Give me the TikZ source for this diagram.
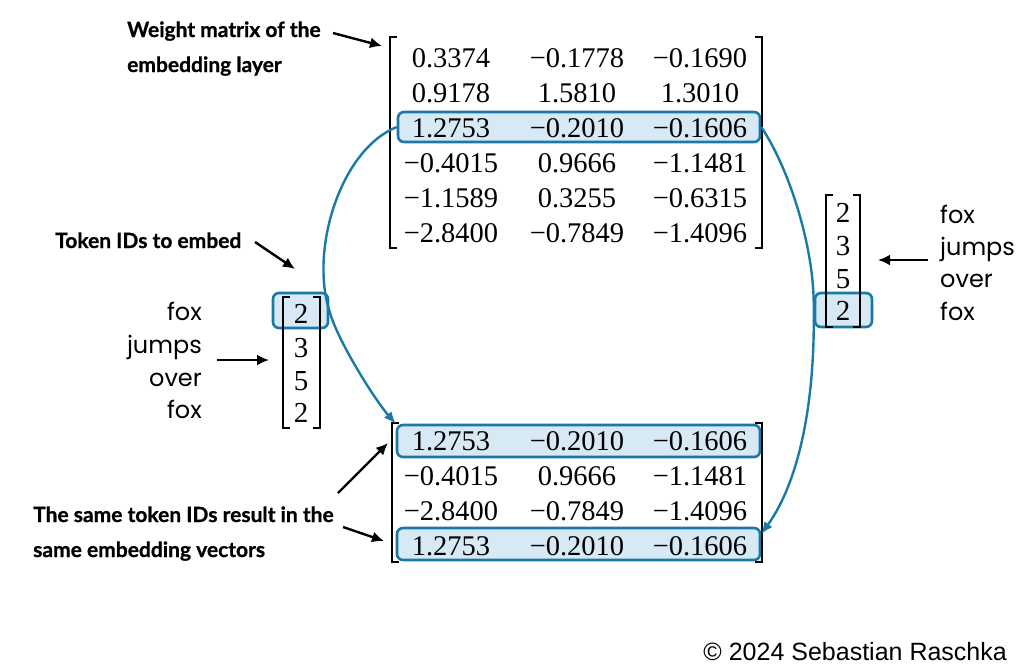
\documentclass[tikz,border=0pt]{standalone}
\usepackage{fontspec}
\setmainfont{Liberation Serif}
\newfontfamily\geofont{Poppins}
\newfontfamily\labfont{Lato}[BoldFeatures={FakeBold=0.8}]
\newfontfamily\copyfont{Liberation Sans}
\usetikzlibrary{arrows.meta}
\definecolor{hlblue}{HTML}{1B79A8}
\definecolor{hlfill}{HTML}{D6E9F5}
\tikzset{
  num/.style={inner sep=0pt, anchor=base, font=\fontsize{28.5}{28}\selectfont},
  vnum/.style={inner sep=0pt, anchor=base, font=\fontsize{29}{28}\selectfont},
  hlbox/.style={draw=hlblue, fill=hlfill, line width=2.6pt, rounded corners=6pt, inner sep=0pt},
  brk/.style={draw=black, line width=1.8pt},
  word/.style={inner sep=0pt, font=\geofont\fontsize{24}{24}\selectfont},
  lab/.style={inner sep=0pt, anchor=base west, font=\labfont\bfseries\fontsize{21}{21}\selectfont},
  blk/.style={draw=black, line width=2.4pt, -{Latex[length=12pt,width=11pt]}},
  blu/.style={draw=hlblue, line width=2.4pt, -{Latex[length=12pt,width=10pt]}},
}
\begin{document}
\begin{tikzpicture}[x=1pt,y=-1pt]
\useasboundingbox (0,0) rectangle (1019,667);
% highlight boxes
\node[hlbox, minimum width=362pt, minimum height=30pt] (h3) at (579,127) {};
\node[hlbox, minimum width=363pt, minimum height=32pt] (b1) at (578.5,441) {};
\node[hlbox, minimum width=363pt, minimum height=32pt] (b4) at (578.5,544) {};
\node[hlbox, minimum width=55pt, minimum height=35pt] (lbox) at (300.5,310.5) {};
\node[hlbox, minimum width=57pt, minimum height=34pt] (rbox) at (843.5,310) {};
% brackets top matrix
\draw[brk] (397,37) -- (390,37) -- (390,248) -- (397,248);
\draw[brk] (755,37) -- (762,37) -- (762,248) -- (755,248);
% brackets bottom matrix
\draw[brk] (399,423) -- (392,423) -- (392,562) -- (399,562);
\draw[brk] (755,423) -- (762,423) -- (762,562) -- (755,562);
% brackets left vector
\draw[brk] (290,297) -- (283,297) -- (283,428) -- (290,428);
\draw[brk] (313,297) -- (320,297) -- (320,428) -- (313,428);
% brackets right vector
\draw[brk] (833,195) -- (826,195) -- (826,327) -- (833,327);
\draw[brk] (853,195) -- (860,195) -- (860,327) -- (853,327);
% top matrix entries
\foreach \r/\y/\a/\b/\c in {1/67/0.3374/−0.1778/−0.1690, 2/102/0.9178/1.5810/1.3010, 3/137/1.2753/−0.2010/−0.1606, 4/172/−0.4015/0.9666/−1.1481, 5/207/−1.1589/0.3255/−0.6315, 6/242/−2.8400/−0.7849/−1.4096}{
  \node[num] (t\r a) at (451,\y) {\a};
  \node[num] (t\r b) at (577,\y) {\b};
  \node[num] (t\r c) at (700,\y) {\c};
}
% bottom matrix entries
\foreach \r/\y/\a/\b/\c in {1/450/1.2753/−0.2010/−0.1606, 2/485/−0.4015/0.9666/−1.1481, 3/520/−2.8400/−0.7849/−1.4096, 4/555/1.2753/−0.2010/−0.1606}{
  \node[num] (m\r a) at (451,\y) {\a};
  \node[num] (m\r b) at (577,\y) {\b};
  \node[num] (m\r c) at (700,\y) {\c};
}
% vectors
\foreach \r/\y/\v in {1/323/2, 2/357/3, 3/390/5, 4/422/2}{
  \node[vnum] (lv\r) at (301,\y) {\v};
}
\foreach \r/\y/\v in {1/222/2, 2/255/3, 3/288/5, 4/320/2}{
  \node[vnum] (rv\r) at (843,\y) {\v};
}
% words left
\node[word, anchor=base east] (lw1) at (202,320) {fox};
\node[word, anchor=base east] (lw2) at (202,353) {jumps};
\node[word, anchor=base east] (lw3) at (202,386) {over};
\node[word, anchor=base east] (lw4) at (202,418) {fox};
% words right
\node[word, anchor=base west] (rw1) at (940,223) {fox};
\node[word, anchor=base west] (rw2) at (940,255) {jumps};
\node[word, anchor=base west] (rw3) at (940,287) {over};
\node[word, anchor=base west] (rw4) at (940,320) {fox};
% bold labels
\node[lab] (wl1) at (127,37) {Weight matrix of the};
\node[lab] (wl2) at (127,72) {embedding layer};
\node[lab] (tl1) at (55,248) {Token IDs to embed};
\node[lab] (sl1) at (33,522) {The same token IDs result in the};
\node[lab] (sl2) at (33,557) {same embedding vectors};
\node[inner sep=0pt, anchor=base east, font=\copyfont\fontsize{25}{25}\selectfont] (copy) at (1007,660) {© 2024 Sebastian Raschka};
% arrow end coordinates
\coordinate (wa1) at (333,33); \coordinate (wa2) at (382,46);
\coordinate (ta1) at (255,242); \coordinate (ta2) at (295,269);
\coordinate (la1) at (217,360); \coordinate (la2) at (269,360);
\coordinate (ra1) at (928,260); \coordinate (ra2) at (878,260);
\coordinate (sa1) at (338,493); \coordinate (sa2) at (388,443);
\coordinate (sb1) at (343,527); \coordinate (sb2) at (384,541);
\draw[blk] (wa1) -- (wa2);
\draw[blk] (ta1) -- (ta2);
\draw[blk] (la1) -- (la2);
\draw[blk] (ra1) -- (ra2);
\draw[blk] (sa1) -- (sa2);
\draw[blk] (sb1) -- (sb2);
% blue curves
\draw[blu] (h3.west) .. controls (340,150) and (310,250) .. (lbox.east)
  .. controls (337,340) and (375,400) .. (b1.north west);
\draw[blu] (h3.east) .. controls (790,170) and (815,250) .. (rbox.west)
  .. controls (815,400) and (800,480) .. ([yshift=10pt]b4.east);
\end{tikzpicture}
\end{document}
